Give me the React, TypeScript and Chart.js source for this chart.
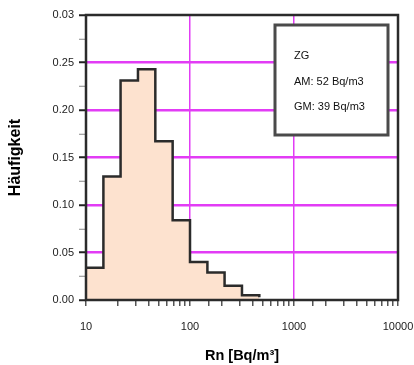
import React, { useEffect, useRef } from 'react';
import { Chart, registerables } from 'chart.js';

Chart.register(...registerables);

// Histogram: lower bin edges (Bq/m3, 6 bins per decade) and relative frequencies
const binEdges = [10, 14.7, 21.5, 31.6, 46.4, 68.1, 100, 147, 215, 316, 464, 681];
const frequencies = [0.034, 0.13, 0.231, 0.243, 0.167, 0.084, 0.04, 0.029, 0.015, 0.005, 0.003];

// Tick labels (the original shows "0.03" at the top of the axis)
const yTickLabels: Record<number, string> = {
  0: '0.00',
  50: '0.05',
  100: '0.10',
  150: '0.15',
  200: '0.20',
  250: '0.25',
  300: '0.03',
};
const xTickLabels = [10, 100, 1000, 10000];
const xGridValues = [100, 1000];
const legendLines = ['ZG', 'AM: 52 Bq/m3', 'GM: 39 Bq/m3'];

const FONT = "'Liberation Sans', Arial, Helvetica, sans-serif";
const MAGENTA = '#e23cf5';

const framePlugin = {
  id: 'frameAndLegend',
  afterDatasetsDraw(chart: any) {
    const { ctx, chartArea: a } = chart;
    ctx.save();
    // plot frame
    ctx.strokeStyle = '#2b2b2b';
    ctx.lineWidth = 2.5;
    ctx.strokeRect(a.left, a.top, a.right - a.left, a.bottom - a.top);
    // legend box
    const bx = a.right - 123;
    const by = a.top + 10;
    const bw = 113;
    const bh = 110;
    ctx.fillStyle = '#ffffff';
    ctx.fillRect(bx, by, bw, bh);
    ctx.strokeStyle = '#4a4a4a';
    ctx.lineWidth = 3;
    ctx.strokeRect(bx, by, bw, bh);
    ctx.fillStyle = '#111111';
    ctx.font = `11px ${FONT}`;
    ctx.textBaseline = 'middle';
    ctx.textAlign = 'left';
    const offsets = [31, 57, 82];
    legendLines.forEach((t, i) => ctx.fillText(t, bx + 19, by + offsets[i]));
    ctx.restore();
  },
};

export default function App() {
  const ref = useRef<HTMLCanvasElement | null>(null);

  useEffect(() => {
    document.body.style.margin = '0';
    const points = binEdges.map((x, i) => ({ x, y: frequencies[i] }));
    points.push({ x: binEdges[binEdges.length - 1], y: 0 });

    const chart = new Chart(ref.current as HTMLCanvasElement, {
      type: 'line',
      data: {
        datasets: [
          {
            data: points,
            stepped: true,
            borderColor: '#2b2b2b',
            borderWidth: 2.5,
            backgroundColor: '#fde2cf',
            fill: 'origin',
            pointRadius: 0,
          },
        ],
      },
      options: {
        animation: false,
        responsive: false,
        devicePixelRatio: 1,
        layout: { padding: { top: 15, right: 16, left: 0, bottom: 0 } },
        plugins: {
          legend: { display: false },
          tooltip: { enabled: false },
        },
        scales: {
          x: {
            type: 'logarithmic',
            min: 10,
            max: 10000,
            afterFit: (s: any) => {
              s.height = 65;
              s.paddingLeft = 0;
              s.paddingRight = 0;
            },
            border: { display: false },
            grid: {
              color: (c: any) =>
                c.tick && xGridValues.includes(Math.round(c.tick.value)) ? MAGENTA : 'rgba(0,0,0,0)',
              lineWidth: 1.5,
              tickLength: 6,
              tickColor: '#555',
              tickWidth: 1.5,
            },
            ticks: {
              autoSkip: false,
              maxRotation: 0,
              padding: 14,
              color: '#222',
              font: { family: FONT, size: 11 },
              callback: (v: any) => (xTickLabels.includes(Number(v)) ? String(v) : ''),
            },
            title: {
              display: true,
              text: 'Rn [Bq/m³]',
              color: '#000',
              font: { family: FONT, size: 14.5, weight: 'bold' },
              padding: { top: 0, bottom: 0 },
            },
          },
          y: {
            min: 0,
            max: 0.3,
            afterFit: (s: any) => {
              s.width = 86;
              s.paddingTop = 0;
              s.paddingBottom = 0;
            },
            border: { display: false },
            grid: {
              color: (c: any) => {
                if (!c.tick) return 'rgba(0,0,0,0)';
                const k = Math.round(c.tick.value * 1000);
                return k > 0 && k < 300 && k % 50 === 0 ? MAGENTA : 'rgba(0,0,0,0)';
              },
              lineWidth: 2.5,
              tickLength: 7,
              tickColor: (c: any) => {
                const k = c.tick ? Math.round(c.tick.value * 1000) : 1;
                return k % 50 === 0 ? '#222' : '#888';
              },
              tickWidth: (c: any) => {
                const k = c.tick ? Math.round(c.tick.value * 1000) : 1;
                return k % 50 === 0 ? 2 : 1;
              },
            },
            ticks: {
              stepSize: 0.025,
              autoSkip: false,
              padding: 5,
              color: '#222',
              font: { family: FONT, size: 11 },
              callback: (v: any) => yTickLabels[Math.round(Number(v) * 1000)] ?? '',
            },
            title: {
              display: true,
              text: 'Häufigkeit',
              color: '#000',
              font: { family: FONT, size: 16, weight: 'bold' },
              padding: { top: 6, bottom: 0 },
            },
          },
        },
      },
      plugins: [framePlugin],
    } as any);

    return () => chart.destroy();
  }, []);

  return (
    <div style={{ position: 'absolute', left: 0, top: 0, width: 414, height: 365 }}>
      <canvas ref={ref} width={414} height={365} />
    </div>
  );
}
